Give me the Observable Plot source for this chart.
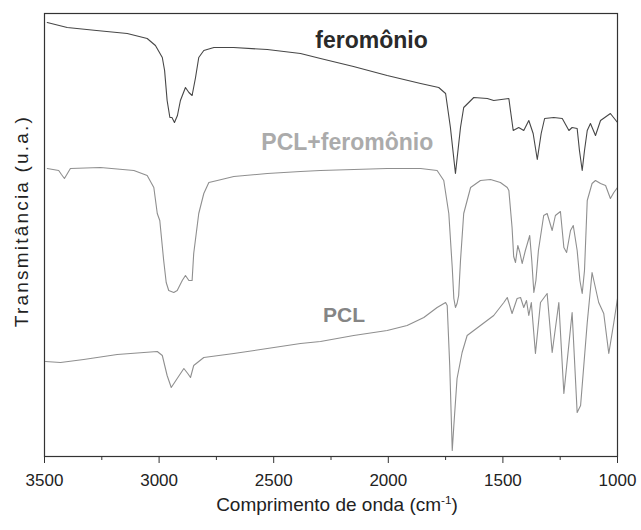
<!DOCTYPE html>
<html>
<head>
<meta charset="utf-8">
<script src="https://cdn.jsdelivr.net/npm/d3@7"></script>
<script src="https://cdn.jsdelivr.net/npm/@observablehq/plot@0.6"></script>
<style>
  html, body { margin: 0; padding: 0; background: #fff; }
</style>
</head>
<body>
<div id="chart"></div>
<script>
// Series names (labels drawn on the chart)
const seriesNames = ["feromônio", "PCL+feromônio", "PCL"];

// feromônio spectrum: wavenumber (cm-1) and transmittance (arbitrary units)
const wnFer = [3488,3401,3273,3139,3052,3016,2986,2976,2965,2953,2944,2933,2920,2907,2885,2870,2856,2841,2827,2805,2761,2675,2528,2383,2296,2152,2005,1859,1780,1750,1729,1707,1685,1671,1627,1568,1540,1474,1467,1455,1431,1409,1387,1368,1350,1333,1318,1278,1241,1212,1198,1176,1166,1154,1144,1132,1118,1096,1074,1031,1000];
const tFer  = [434,429,426,423,418,411,399,386,356,339,339,334,341,356,369,364,361,379,399,406,409,409,407,403,398,390,381,373,369,363,329,283,329,349,359,358,356,358,346,326,329,326,336,323,297,323,338,339,338,326,329,328,306,286,306,326,333,321,336,343,334];

// PCL+feromônio spectrum
const wnMix = [3488,3438,3426,3413,3400,3387,3256,3110,3052,3023,3008,2997,2980,2969,2958,2936,2921,2899,2885,2870,2856,2849,2827,2805,2783,2746,2674,2528,2383,2296,2005,1859,1787,1758,1736,1721,1714,1707,1700,1693,1685,1671,1641,1598,1554,1511,1481,1474,1460,1453,1445,1435,1426,1416,1402,1383,1374,1365,1356,1345,1322,1307,1285,1271,1249,1234,1222,1205,1193,1176,1164,1154,1144,1132,1111,1096,1074,1052,1031,1016,1000];
const tMix  = [288,286,282,278,283,288,289,286,281,269,243,236,196,174,166,164,166,176,181,176,176,203,243,263,274,276,280,283,285,286,288,288,286,276,243,189,158,149,153,161,196,243,269,276,277,274,269,266,229,200,194,211,204,193,206,221,196,164,176,206,241,243,226,241,245,209,204,226,231,206,176,163,186,256,273,276,273,271,258,264,269];

// PCL spectrum
const wnPcl = [3496,3430,3329,3183,3008,2986,2965,2947,2921,2892,2875,2863,2849,2805,2674,2528,2383,2296,2151,2005,1918,1845,1787,1750,1743,1732,1721,1714,1700,1678,1656,1598,1540,1496,1481,1460,1438,1423,1409,1397,1387,1376,1358,1336,1307,1285,1256,1234,1198,1176,1161,1132,1111,1082,1060,1038,1016,1000];
const tPcl  = [95,94,97,102,105,101,81,69,78,88,83,79,91,99,103,108,113,115,121,126,131,139,149,154,151,91,6,31,78,104,121,131,141,154,159,143,158,159,149,156,141,154,103,154,163,104,154,63,144,44,51,134,184,154,143,103,134,158];

// Axis ticks
const majorTicks = [3500, 3000, 2500, 2000, 1500, 1000];
const minorTicks = [3250, 2750, 2250, 1750, 1250];

const rows = (wn, t, s) => wn.map((w, i) => ({wn: w, t: t[i], series: s}));
const fer = rows(wnFer, tFer, seriesNames[0]);
const mix = rows(wnMix, tMix, seriesNames[1]);
const pcl = rows(wnPcl, tPcl, seriesNames[2]);

const chart = Plot.plot({
  width: 641,
  height: 530,
  marginLeft: 44,
  marginRight: 24,
  marginTop: 13,
  marginBottom: 74,
  style: {fontFamily: "'Liberation Sans', Arial, sans-serif", background: "#fff", color: "#222"},
  x: {domain: [3500, 1000]},
  y: {domain: [0, 443], axis: null},
  marks: [
    Plot.line(fer, {x: "wn", y: "t", stroke: "#474747", strokeWidth: 1.1}),
    Plot.line(mix, {x: "wn", y: "t", stroke: "#8f8f8f", strokeWidth: 1.1}),
    Plot.line(pcl, {x: "wn", y: "t", stroke: "#8f8f8f", strokeWidth: 1.1}),
    Plot.frame({stroke: "#333", strokeWidth: 1.2}),
    Plot.axisX({ticks: majorTicks, tickSize: 7, tickPadding: 10, fontSize: 17, tickFormat: d => String(d), label: null, stroke: "#333"}),
    Plot.axisX({ticks: minorTicks, tickSize: 4, text: null, label: null, stroke: "#333"}),
    Plot.text([seriesNames[0]], {x: 2073, y: 415.7, text: d => d, fontSize: 23, fontWeight: "bold", fill: "#2a2a2a"}),
    Plot.text([seriesNames[1]], {x: 2179, y: 313.4, text: d => d, fontSize: 23, fontWeight: "bold", fill: "#ababab"}),
    Plot.text([seriesNames[2]], {x: 2193, y: 141, text: d => d, fontSize: 21, fontWeight: "bold", fill: "#858585"}),
    Plot.text(["Comprimento de onda (cm-1)"], {frameAnchor: "bottom", textAnchor: "middle", lineAnchor: "middle", dx: 6, dy: 48, text: d => d, fontSize: 19, fill: "#222"}),
    Plot.text(["Transmitância (u.a.)"], {frameAnchor: "left", textAnchor: "middle", lineAnchor: "middle", dx: -23, dy: -14, rotate: -90, text: d => d, fontSize: 19, fill: "#222"})
  ]
});

document.getElementById("chart").appendChild(chart);

// Superscript on the x title and spacing on the y title
d3.select(chart).selectAll("text").each(function() {
  const el = d3.select(this);
  const s = el.text();
  if (s === "Comprimento de onda (cm-1)") {
    el.text("Comprimento de onda (cm");
    el.append("tspan").attr("dy", "-0.55em").attr("font-size", "0.62em").text("-1");
    el.append("tspan").attr("dy", "0.34em").text(")");
  } else if (s === "Transmitância (u.a.)") {
    el.style("letter-spacing", "2.2px");
  }
});
</script>
</body>
</html>
